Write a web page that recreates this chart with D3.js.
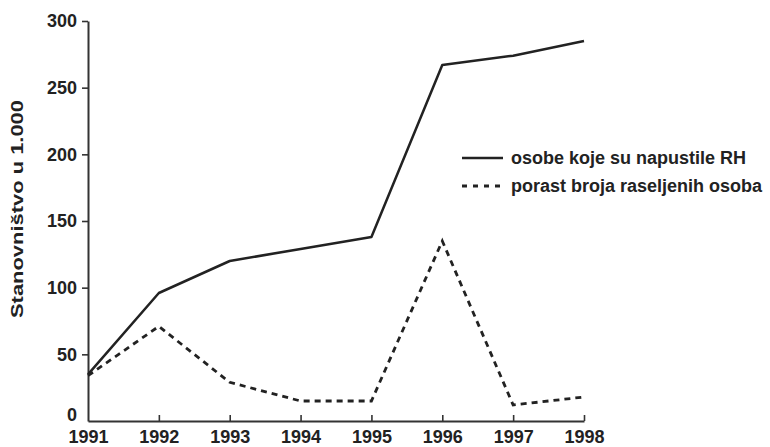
<!DOCTYPE html>
<html>
<head>
<meta charset="utf-8">
<script src="https://cdn.jsdelivr.net/npm/d3@7"></script>
<style>
  body { margin: 0; background: #fff; }
  text { font-family: "Liberation Sans", Arial, sans-serif; fill: #222; }
</style>
</head>
<body>
<div id="chart"></div>
<script>
// Data
var years = [1991, 1992, 1993, 1994, 1995, 1996, 1997, 1998];
var emigrated = [35, 96, 120, 129, 138, 267, 274, 285];
var displaced = [34, 71, 29, 15, 15, 135, 12, 18];
var yTicks = [0, 50, 100, 150, 200, 250, 300];
var seriesNames = ["osobe koje su napustile RH", "porast broja raseljenih osoba"];

var svgWidth = 770;
var svgHeight = 447;

var margin = { top: 21, right: 186, bottom: 26, left: 88 };
var width = svgWidth - margin.left - margin.right;
var height = svgHeight - margin.top - margin.bottom;

var svg = d3.select("#chart")
  .append("svg")
  .attr("width", svgWidth)
  .attr("height", svgHeight);

var chartGroup = svg.append("g")
  .attr("transform", `translate(${margin.left}, ${margin.top})`);

// Scales
var xScale = d3.scaleLinear()
  .domain([1991, 1998])
  .range([0, width]);

var yScale = d3.scaleLinear()
  .domain([0, 300])
  .range([height, 0]);

// Axes
var bottomAxis = d3.axisBottom(xScale)
  .tickValues(years)
  .tickFormat(d3.format("d"))
  .tickSizeInner(-6)
  .tickSizeOuter(0)
  .tickPadding(9);

var leftAxis = d3.axisLeft(yScale)
  .tickValues(yTicks)
  .tickSizeInner(6)
  .tickSizeOuter(0)
  .tickPadding(5);

var xAxisG = chartGroup.append("g")
  .attr("transform", `translate(0, ${height})`)
  .call(bottomAxis);

var yAxisG = chartGroup.append("g")
  .call(leftAxis);

[xAxisG, yAxisG].forEach(function(g) {
  g.select(".domain").attr("stroke", "#333").attr("stroke-width", 2);
  g.selectAll(".tick line").attr("stroke", "#333").attr("stroke-width", 1.6);
  g.selectAll(".tick text")
    .attr("fill", "#222")
    .style("font-family", "'Liberation Sans', Arial, sans-serif")
    .style("font-size", "18px")
    .style("font-weight", "bold");
});

// hide the tick lines that sit on the axis corner
xAxisG.selectAll(".tick").filter(d => d === 1991).select("line").remove();
yAxisG.selectAll(".tick").filter(d => d === 0).select("line").remove();
yAxisG.selectAll(".tick").filter(d => d === 0).select("text").attr("dy", "-0.05em");

// Lines
var line = d3.line()
  .x((d, i) => xScale(years[i]))
  .y(d => yScale(d));

chartGroup.append("path")
  .datum(emigrated)
  .attr("d", line)
  .attr("fill", "none")
  .attr("stroke", "#222")
  .attr("stroke-width", 2.5)
  .attr("stroke-linejoin", "round");

chartGroup.append("path")
  .datum(displaced)
  .attr("d", line)
  .attr("fill", "none")
  .attr("stroke", "#222")
  .attr("stroke-width", 2.8)
  .attr("stroke-dasharray", "6,5");

// Y axis title
svg.append("text")
  .attr("transform", "translate(23, 209) rotate(-90)")
  .attr("text-anchor", "middle")
  .attr("textLength", 218)
  .attr("lengthAdjust", "spacingAndGlyphs")
  .style("font-size", "16px")
  .style("font-weight", "bold")
  .text("Stanovništvo u 1.000");

// Legend
var legend = svg.append("g")
  .attr("transform", "translate(462, 158)");

seriesNames.forEach(function(name, i) {
  var row = legend.append("g")
    .attr("transform", `translate(0, ${i * 28})`);
  row.append("line")
    .attr("x1", 0)
    .attr("x2", 41)
    .attr("stroke", "#222")
    .attr("stroke-width", i === 0 ? 2.5 : 2.8)
    .attr("stroke-dasharray", i === 0 ? null : "5,6");
  row.append("text")
    .attr("x", 49)
    .attr("dy", "0.35em")
    .style("font-size", "18px")
    .style("font-weight", "bold")
    .text(name);
});
</script>
</body>
</html>
